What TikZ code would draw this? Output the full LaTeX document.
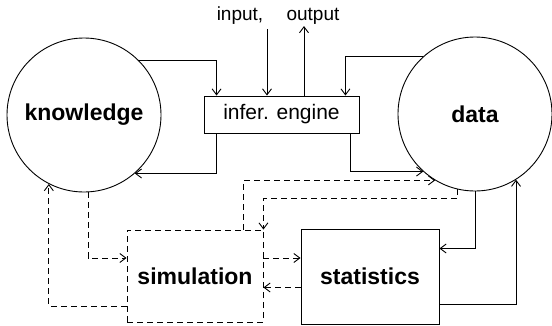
\documentclass[tikz,border=0pt]{standalone}
\usepackage{fontspec}
\setmainfont{Liberation Sans}
\usepackage{tikz}
\usetikzlibrary{arrows.meta}

\begin{document}
\begin{tikzpicture}[x=1pt,y=-1pt,>={Straight Barb[length=6pt,width=9pt]},line width=0.9pt,
	blob/.style={draw,circle,inner sep=0pt,minimum size=154pt,font=\fontsize{23}{23}\selectfont\bfseries},
	unit/.style={draw,rectangle,inner sep=0pt,font=\fontsize{23}{23}\selectfont\bfseries},
	engbox/.style={draw,rectangle,inner sep=0pt,minimum width=155pt,minimum height=37pt,font=\fontsize{21}{21}\selectfont},
	io/.style={font=\fontsize{19}{19}\selectfont},
	dsh/.style={dash pattern=on 6pt off 4pt}]
	\useasboundingbox (0,0) rectangle (552,325);

	%circles
	\node[blob] (know) at (84,115) {knowledge};
	\node[blob] (data) at (475,114) {data};

	%boxes
	\node[engbox] (eng) at (281.5,114.5) {infer. engine};
	\node[unit,dsh,minimum width=136pt,minimum height=92pt] (sim) at (195,276) {simulation};
	\node[unit,minimum width=138pt,minimum height=95pt] (stat) at (370,276.5) {statistics};

	%input / output
	\node[io] (inlbl) at (240,16) {input,};
	\node[io] (outlbl) at (313,16) {output};
	\coordinate (in) at (267,29);
	\coordinate (out) at (304,26);
	\draw[->] (in) -- (in |- eng.north);
	\draw[->] (out |- eng.north) -- (out);

	%solid arrows round the engine
	\draw[->] (know.45) -| ([xshift=13pt]eng.north west);
	\draw[->] (data.132) -| ([xshift=-14pt]eng.north east);
	\draw[->] ([xshift=13pt]eng.south west) |- (know.-49);
	\draw[->] ([xshift=-9pt]eng.south east) |- (data.-132);

	%statistics <-> data
	\draw[->] (data.south) |- ([yshift=28pt]stat.east);
	\draw[->] ([yshift=-28pt]stat.east) -| (data.-58);

	%dashed arrows round the simulation
	\draw[dsh,->] (know.-87) |- ([yshift=18pt]sim.west);
	\draw[dsh,->] ([yshift=-30pt]sim.west) -| (know.-117);
	\draw[dsh,->] ([xshift=-20pt]sim.north east) |- (data.-121);
	\draw[dsh,->] (data.-103) -- ++(0,9) -| (sim.north east);

	%simulation <-> statistics
	\draw[dsh,->] ([yshift=18pt]sim.east) coordinate (s1) -- (s1 -| stat.west);
	\draw[dsh,->] ([yshift=-11pt]stat.west) coordinate (s2) -- (s2 -| sim.east);
\end{tikzpicture}
\end{document}
